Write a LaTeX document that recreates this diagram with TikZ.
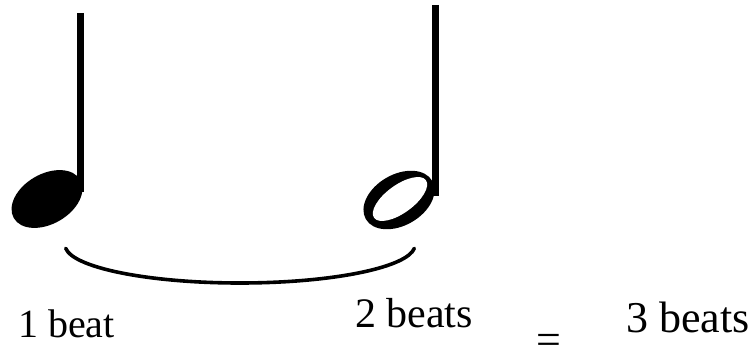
\documentclass[tikz,border=0pt]{standalone}
\usepackage{fontspec}
\setmainfont{Liberation Serif}
\begin{document}
\begin{tikzpicture}[x=1pt,y=1pt,
  stem/.style={line width=6.5pt},
  lbl/.style={anchor=base west,inner sep=0pt,outer sep=0pt}]
\useasboundingbox (0,0) rectangle (754,362);
% quarter note (1 beat)
\fill[black,rotate around={30:(47,163)}] (47,163) ellipse [x radius=38.3,y radius=25];
\draw[stem] (80.5,349) -- (80.5,170);
% half note (2 beats)
\fill[black,rotate around={30:(399,162)}] (399,162) ellipse [x radius=38.3,y radius=25.5];
\fill[white,rotate around={36:(400,163)}] (400,163) ellipse [x radius=32,y radius=14];
\draw[stem] (435.5,357) -- (435.5,166);
% tie
\draw[line width=3.6pt,line cap=round] (240,117) ++(185:175 and 38) arc [start angle=185,end angle=355,x radius=175,y radius=38];
% labels
\node[lbl,font=\fontsize{40}{40}\selectfont] (one) at (18,25) {1 beat};
\node[lbl,font=\fontsize{42}{42}\selectfont] (two) at (355,35) {2 beats};
\node[lbl,font=\fontsize{44}{44}\selectfont] (three) at (626,30) {3 beats};
\node[lbl,font=\fontsize{44}{44}\selectfont] (eq) at (536,8) {=};
\end{tikzpicture}
\end{document}
